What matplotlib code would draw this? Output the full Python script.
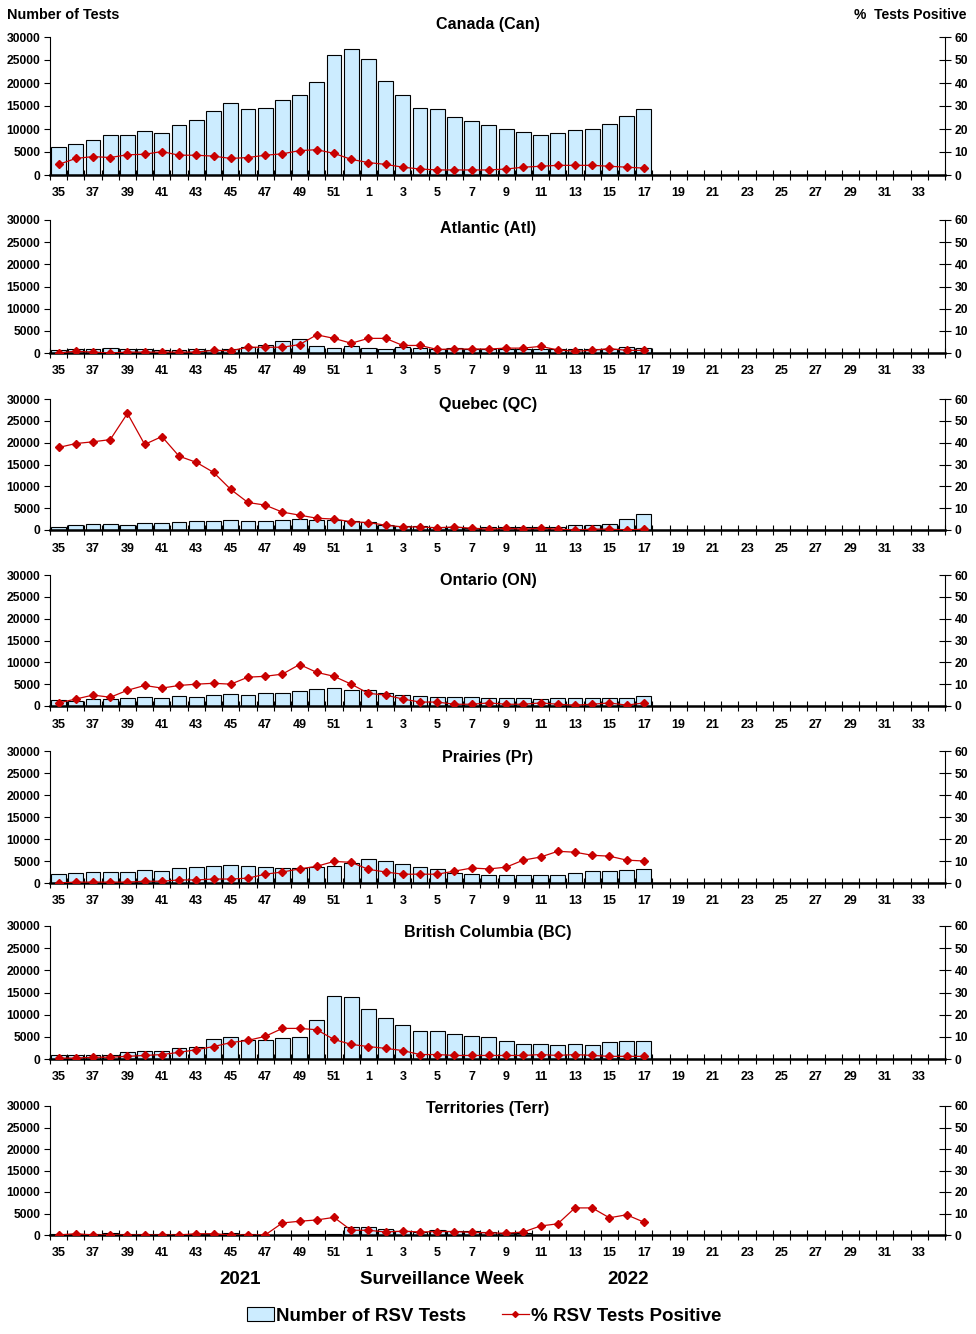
import numpy as np
import matplotlib.pyplot as plt
from matplotlib.patches import Patch
from matplotlib.lines import Line2D

plt.rcParams['font.family'] = ['Liberation Sans', 'DejaVu Sans']
plt.rcParams['font.weight'] = 'bold'

# surveillance weeks 35 (2021) .. 34 (2022)
weeks = list(range(35, 53)) + list(range(1, 35))
tick_labels = [str(w) for w in weeks[::2]]

titles = ['Canada (Can)', 'Atlantic (Atl)', 'Quebec (QC)', 'Ontario (ON)',
          'Prairies (Pr)', 'British Columbia (BC)', 'Territories (Terr)']

# number of tests, weeks 35..17
tests_can = [6000, 6700, 7700, 8600, 8600, 9600, 9200, 10900, 12000, 13900, 15600, 14300,
             14500, 16200, 17500, 20300, 26100, 27400, 25300, 20500, 17500, 14500, 14300,
             12600, 11800, 10900, 10000, 9400, 8800, 9200, 9800, 10000, 11100, 12800, 14300]
tests_atl = [600, 800, 1000, 1200, 1000, 800, 700, 600, 1000, 700, 800, 1300, 1700, 2800,
             3100, 1500, 1100, 1500, 1100, 800, 1300, 1100, 900, 1100, 1000, 900, 1000, 1000,
             900, 1000, 1000, 900, 1000, 1300, 1100]
tests_qc = [700, 1100, 1300, 1300, 1100, 1600, 1600, 1800, 2000, 2000, 2200, 2000, 2000, 2200,
            2500, 2300, 2400, 2000, 1800, 1200, 900, 900, 700, 700, 500, 600, 600, 600, 600,
            800, 1100, 1100, 1300, 2500, 3700]
tests_on = [1300, 1100, 1600, 1600, 1800, 2000, 1800, 2300, 2000, 2500, 2700, 2500, 2900, 2900,
            3400, 3800, 4100, 3600, 3600, 2900, 2500, 2200, 2000, 2000, 2000, 1800, 1800, 1800,
            1600, 1800, 1800, 1800, 1800, 1800, 2200]
tests_pr = [2000, 2200, 2500, 2500, 2500, 2900, 2700, 3400, 3600, 3800, 4100, 3800, 3600, 3400,
            3400, 3600, 3800, 4500, 5400, 5000, 4300, 3600, 3200, 2300, 2000, 1800, 1800, 1800,
            1800, 1800, 2200, 2700, 2700, 2900, 3200]
tests_bc = [1000, 800, 1000, 1000, 1500, 1700, 1900, 2400, 2800, 4600, 5000, 4200, 4200, 4800,
            5000, 8700, 14300, 13900, 11300, 9300, 7700, 6400, 6400, 5700, 5200, 5000, 4100,
            3400, 3400, 3200, 3400, 3200, 3900, 4100, 4100]
tests_terr = [300, 300, 300, 450, 300, 300, 300, 300, 300, 300, 450, 300, 80, 100, 100, 300,
              300, 1800, 1800, 1400, 900, 700, 1100, 900, 900, 700, 500, 500, 60, 60, 60, 60,
              60, 60, 60]

# % tests positive, weeks 35..17
pos_can = [4.6, 7.2, 8.0, 7.6, 8.8, 9.0, 10.2, 8.6, 8.6, 8.2, 7.2, 7.6, 8.6, 9.2, 10.6, 11.0,
           9.4, 6.8, 5.4, 4.6, 3.4, 2.6, 2.2, 2.2, 2.2, 2.2, 2.6, 3.4, 3.8, 4.2, 4.2, 4.2, 3.8,
           3.4, 3.0]
pos_atl = [0.0, 0.8, 0.4, 0.0, 0.4, 0.4, 0.4, 0.4, 0.4, 1.2, 1.0, 2.6, 2.6, 2.6, 3.8, 8.2, 6.6,
           4.4, 6.6, 6.6, 3.4, 3.4, 1.6, 1.8, 1.8, 1.8, 2.2, 2.2, 3.0, 1.4, 0.8, 1.2, 2.0, 1.2,
           1.2]
pos_qc = [37.8, 39.6, 40.4, 41.4, 53.4, 39.2, 42.8, 33.8, 31.0, 26.4, 18.6, 12.6, 11.4, 8.2,
          6.8, 5.4, 5.0, 3.8, 3.4, 2.2, 1.4, 1.4, 1.0, 1.4, 0.8, 0.4, 0.8, 0.4, 0.8, 0.4, 0.0,
          0.4, 0.4, 0.0, 0.4]
pos_on = [1.4, 3.2, 5.0, 4.0, 7.2, 9.4, 8.2, 9.4, 10.0, 10.4, 10.0, 13.2, 13.6, 14.6, 19.0,
          15.4, 13.6, 10.0, 5.8, 5.0, 3.2, 1.8, 1.8, 0.8, 0.8, 1.4, 0.8, 0.8, 1.4, 0.8, 0.4,
          0.8, 1.4, 0.4, 1.4]
pos_pr = [0.0, 0.4, 0.4, 0.4, 0.4, 0.8, 0.8, 1.4, 1.4, 1.8, 1.8, 2.2, 4.0, 5.0, 6.4, 7.6, 9.8,
          9.4, 6.2, 5.0, 4.0, 4.0, 4.0, 5.4, 6.8, 6.4, 7.2, 10.4, 11.8, 14.4, 14.0, 12.6, 12.2,
          10.4, 10.0]
pos_bc = [0.4, 0.4, 0.8, 0.8, 1.2, 1.6, 2.0, 3.0, 4.2, 5.6, 7.4, 8.4, 10.2, 13.8, 13.8, 13.2,
          8.8, 6.6, 5.6, 4.8, 3.8, 2.0, 2.0, 1.6, 1.6, 1.6, 1.6, 1.6, 2.0, 1.6, 2.0, 1.6, 1.2,
          1.2, 1.2]
pos_terr = [0.0, 0.6, 0.0, 0.0, 0.0, 0.0, 0.0, 0.0, 0.6, 0.6, 0.0, 0.0, 0.0, 5.6, 6.4, 7.0,
            8.2, 2.2, 2.2, 1.4, 1.8, 1.4, 1.6, 1.6, 1.2, 1.0, 0.8, 1.4, 4.2, 5.2, 12.6, 12.6,
            8.0, 9.4, 6.0]

tests_all = [tests_can, tests_atl, tests_qc, tests_on, tests_pr, tests_bc, tests_terr]
pos_all = [pos_can, pos_atl, pos_qc, pos_on, pos_pr, pos_bc, pos_terr]

BAR_COLOR = '#CCECFF'
LINE_COLOR = '#C80000'

W, H = 976, 1334
fig = plt.figure(figsize=(W / 100, H / 100), dpi=100)

tops = [37, 220, 399, 575, 751, 926, 1106]
bottoms = [175, 353, 530, 706, 883, 1059, 1235]
title_y = [24, 229, 405, 581, 757, 933, 1109]
left, right = 50, 945

x_all = np.arange(len(weeks))

for i in range(len(titles)):
    ax = fig.add_axes([left / W, 1 - bottoms[i] / H, (right - left) / W,
                       (bottoms[i] - tops[i]) / H])
    tests = tests_all[i]
    pos = pos_all[i]
    x = x_all[:len(tests)]
    ax.bar(x, tests, width=0.86, color=BAR_COLOR, edgecolor='black', linewidth=0.8, zorder=2)
    ax.set_xlim(-0.5, len(weeks) - 0.5)
    ax.set_ylim(0, 30000)
    ax.set_yticks(range(0, 30001, 5000))
    ax.tick_params(axis='y', direction='out', length=4, width=0.8, labelsize=8.7, pad=3)

    # ticks at week boundaries, labels every second week
    ax.set_xticks(np.arange(-0.5, len(weeks), 1))
    ax.set_xticklabels([])
    ax.set_xticks(x_all[::2], minor=True)
    ax.set_xticklabels(tick_labels, minor=True)
    ax.tick_params(axis='x', which='major', direction='inout', length=7, width=0.8)
    ax.tick_params(axis='x', which='minor', length=0, labelsize=9, pad=9)

    ax.spines['top'].set_visible(False)
    ax.spines['right'].set_visible(False)
    ax.spines['bottom'].set_linewidth(1.8)
    ax.spines['left'].set_linewidth(0.8)

    ax2 = ax.twinx()
    ax2.plot(x_all[:len(pos)], pos, color=LINE_COLOR, lw=0.9, marker='D', ms=3.8,
             zorder=3)
    ax2.set_ylim(0, 60)
    ax2.set_yticks(range(0, 61, 10))
    ax2.tick_params(axis='y', direction='inout', length=8, width=0.8, labelsize=8.7, pad=3)
    ax2.spines['top'].set_visible(False)
    ax2.spines['left'].set_visible(False)
    ax2.spines['bottom'].set_visible(False)
    ax2.spines['right'].set_linewidth(0.8)

    fig.text(488 / W, 1 - title_y[i] / H, titles[i], ha='center', va='center',
             fontsize=11.6, fontweight='bold')

fig.text(7 / W, 1 - 15 / H, 'Number of Tests', ha='left', va='center', fontsize=10.4,
         fontweight='bold')
fig.text(966 / W, 1 - 15 / H, '%  Tests Positive', ha='right', va='center', fontsize=10,
         fontweight='bold')

fig.text(240 / W, 1 - 1280 / H, '2021', ha='center', va='center', fontsize=13.5,
         fontweight='bold')
fig.text(442 / W, 1 - 1280 / H, 'Surveillance Week', ha='center', va='center', fontsize=13.5,
         fontweight='bold')
fig.text(628 / W, 1 - 1280 / H, '2022', ha='center', va='center', fontsize=13.5,
         fontweight='bold')

handles = [Patch(facecolor=BAR_COLOR, edgecolor='black', linewidth=0.8),
           Line2D([], [], color=LINE_COLOR, lw=0.9, marker='D', ms=3)]
fig.legend(handles, ['Number of RSV Tests', '% RSV Tests Positive'], loc='center',
           bbox_to_anchor=(484 / W, 1 - 1316 / H), ncol=2, frameon=False,
           prop={'size': 13.5, 'weight': 'bold'}, handlelength=1.45, handletextpad=0.1,
           columnspacing=1.9)

fig.savefig('out.png', dpi=100)
